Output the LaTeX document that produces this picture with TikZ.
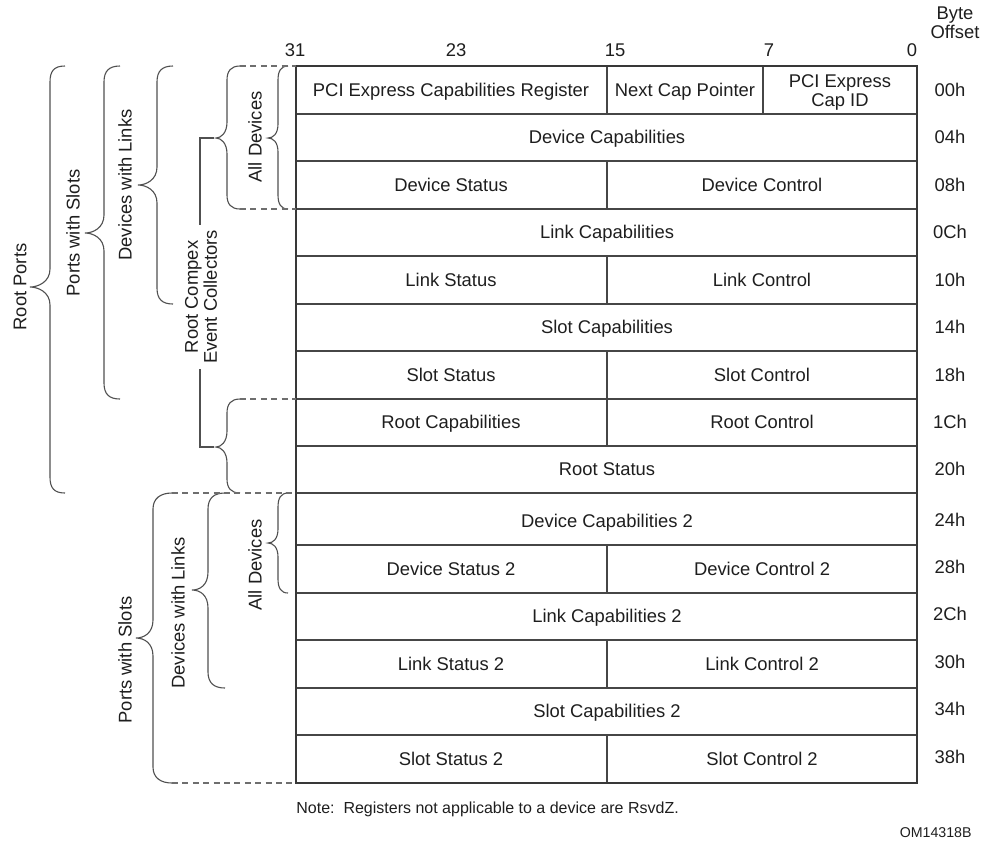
\documentclass[tikz,border=0pt]{standalone}
\usepackage{fontspec}
\setmainfont{Liberation Sans}
\definecolor{inkgray}{RGB}{30,30,30}
\definecolor{rulegray}{RGB}{70,70,70}
\definecolor{bracegray}{RGB}{80,80,80}
\definecolor{dashgray}{RGB}{110,110,110}
\begin{document}
\begin{tikzpicture}[x=0.5pt,y=0.5pt,yscale=-1,xscale=1,
    lbl/.style={text=inkgray,font=\fontsize{9.2}{9.5}\selectfont,inner sep=1pt,align=center,text depth=0pt},
    side/.style={lbl,rotate=90},
    cellrule/.style={draw=rulegray,line width=0.7},
    frame/.style={draw=rulegray!80!black,line width=1.1},
    brc/.style={draw=bracegray,line width=0.55},
    dsh/.style={draw=dashgray,line width=0.55,dash pattern=on 3pt off 2.2pt}]
\useasboundingbox (0,0) rectangle (988,842); %set diagram size 988 x 842

% Bit numbers
\node[lbl] (b31) at (295,50) {31};
\node[lbl] (b23) at (456,50) {23};
\node[lbl] (b15) at (615,50) {15};
\node[lbl] (b7) at (769,50) {7};
\node[lbl] (b0) at (912,50) {0};
\node[lbl] (hdr) at (955,23) {Byte\\Offset};

% Row lines
\draw[cellrule] (296,114) -- (917,114);
\draw[cellrule] (296,161) -- (917,161);
\draw[cellrule] (296,209) -- (917,209);
\draw[cellrule] (296,256) -- (917,256);
\draw[cellrule] (296,304) -- (917,304);
\draw[cellrule] (296,351) -- (917,351);
\draw[cellrule] (296,399) -- (917,399);
\draw[cellrule] (296,446) -- (917,446);
\draw[cellrule] (296,493) -- (917,493);
\draw[cellrule] (296,545) -- (917,545);
\draw[cellrule] (296,593) -- (917,593);
\draw[cellrule] (296,640) -- (917,640);
\draw[cellrule] (296,688) -- (917,688);
\draw[cellrule] (296,735) -- (917,735);
% Column lines
\draw[cellrule] (607,66) -- (607,114);
\draw[cellrule] (763,66) -- (763,114);
\draw[cellrule] (607,161) -- (607,209);
\draw[cellrule] (607,256) -- (607,304);
\draw[cellrule] (607,351) -- (607,446);
\draw[cellrule] (607,545) -- (607,593);
\draw[cellrule] (607,640) -- (607,688);
\draw[cellrule] (607,735) -- (607,783);
% Frame
\draw[frame] (296,66) rectangle (917,783);

% Register names
\node[lbl] (pcicap) at (451,90) {PCI Express Capabilities Register};
\node[lbl] (nextcap) at (685,90) {Next Cap Pointer};
\node[lbl] (capid) at (840,91) {PCI Express\\Cap ID};
\node[lbl] (devcap) at (607,137) {Device Capabilities};
\node[lbl] (devsta) at (451,185) {Device Status};
\node[lbl] (devctl) at (762,185) {Device Control};
\node[lbl] (lnkcap) at (607,232) {Link Capabilities};
\node[lbl] (lnksta) at (451,280) {Link Status};
\node[lbl] (lnkctl) at (762,280) {Link Control};
\node[lbl] (sltcap) at (607,327) {Slot Capabilities};
\node[lbl] (sltsta) at (451,375) {Slot Status};
\node[lbl] (sltctl) at (762,375) {Slot Control};
\node[lbl] (rootcap) at (451,422) {Root Capabilities};
\node[lbl] (rootctl) at (762,422) {Root Control};
\node[lbl] (rootsta) at (607,469) {Root Status};
\node[lbl] (devcapb) at (607,521) {Device Capabilities 2};
\node[lbl] (devstab) at (451,569) {Device Status 2};
\node[lbl] (devctlb) at (762,569) {Device Control 2};
\node[lbl] (lnkcapb) at (607,616) {Link Capabilities 2};
\node[lbl] (lnkstab) at (451,664) {Link Status 2};
\node[lbl] (lnkctlb) at (762,664) {Link Control 2};
\node[lbl] (sltcapb) at (607,711) {Slot Capabilities 2};
\node[lbl] (sltstab) at (451,759) {Slot Status 2};
\node[lbl] (sltctlb) at (762,759) {Slot Control 2};

% Byte offsets
\node[lbl] (o00) at (950,90) {00h};
\node[lbl] (o04) at (950,137) {04h};
\node[lbl] (o08) at (950,185) {08h};
\node[lbl] (o0C) at (950,232) {0Ch};
\node[lbl] (o10) at (950,280) {10h};
\node[lbl] (o14) at (950,327) {14h};
\node[lbl] (o18) at (950,375) {18h};
\node[lbl] (o1C) at (950,422) {1Ch};
\node[lbl] (o20) at (950,469) {20h};
\node[lbl] (o24) at (950,520) {24h};
\node[lbl] (o28) at (950,567) {28h};
\node[lbl] (o2C) at (950,614) {2Ch};
\node[lbl] (o30) at (950,662) {30h};
\node[lbl] (o34) at (950,709) {34h};
\node[lbl] (o38) at (950,757) {38h};

% Braces, upper group
\draw[brc] (65,66) .. controls (54,66) and (50,71) .. (50,82) -- (50,269) .. controls (50,282) and (38,287) .. (30,287) .. controls (38,287) and (50,292) .. (50,305) -- (50,477) .. controls (50,488) and (54,493) .. (65,493);
\draw[brc] (120,66) .. controls (109,66) and (104,71) .. (104,82) -- (104,215) .. controls (104,228) and (93,233) .. (85,233) .. controls (93,233) and (104,238) .. (104,251) -- (104,383) .. controls (104,394) and (109,399) .. (120,399);
\draw[brc] (173,66) .. controls (162,66) and (157,71) .. (157,82) -- (157,167) .. controls (157,180) and (146,185) .. (138,185) .. controls (146,185) and (157,190) .. (157,203) -- (157,288) .. controls (157,299) and (162,304) .. (173,304);
\draw[brc] (240,66) .. controls (231,66) and (227,71) .. (227,80) -- (227,122) .. controls (227,133) and (221,138) .. (216,138) .. controls (221,138) and (227,143) .. (227,154) -- (227,195) .. controls (227,204) and (231,209) .. (240,209);
\draw[brc] (288,66) .. controls (281,66) and (278,71) .. (278,80) -- (278,124) .. controls (278,134) and (273,138) .. (268,138) .. controls (273,138) and (278,142) .. (278,152) -- (278,195) .. controls (278,204) and (281,209) .. (288,209);
\draw[brc] (240,399) .. controls (231,399) and (227,404) .. (227,413) -- (227,431) .. controls (227,442) and (221,447) .. (216,447) .. controls (221,447) and (227,452) .. (227,463) -- (227,479) .. controls (227,488) and (231,493) .. (240,493);
% Braces, lower group
\draw[brc] (172,493) .. controls (161,493) and (153,498) .. (153,509) -- (153,620) .. controls (153,633) and (144,638) .. (136,638) .. controls (144,638) and (153,643) .. (153,656) -- (153,767) .. controls (153,778) and (161,783) .. (172,783);
\draw[brc] (225,493) .. controls (214,493) and (208,498) .. (208,509) -- (208,572) .. controls (208,585) and (200,590) .. (192,590) .. controls (200,590) and (208,595) .. (208,608) -- (208,672) .. controls (208,683) and (214,688) .. (225,688);
\draw[brc] (288,493) .. controls (281,493) and (278,498) .. (278,507) -- (278,529) .. controls (278,539) and (273,543) .. (268,543) .. controls (273,543) and (278,547) .. (278,557) -- (278,579) .. controls (278,588) and (281,593) .. (288,593);

% Dashed extensions
\draw[dsh] (240,66) -- (296,66);
\draw[dsh] (240,209) -- (296,209);
\draw[dsh] (240,399) -- (296,399);
\draw[dsh] (172,493) -- (296,493);
\draw[dsh] (172,783) -- (296,783);

% Root complex event collector bracket
\coordinate (rcTop) at (214,138);
\coordinate (rcBot) at (214,447);
\draw[brc] (rcTop) -- (200,138) -- (200,447) -- (rcBot);

% Side labels
\node[side] (rootports) at (20,287) {Root Ports};
\node[side] (slotsA) at (73,233) {Ports with Slots};
\node[side] (linksA) at (125,185) {Devices with Links};
\node[side,fill=white,inner sep=2.5pt] (rcec) at (201,297) {Root Compex\\Event Collectors};
\node[side] (allA) at (255,137) {All Devices};
\node[side] (slotsB) at (125,660) {Ports with Slots};
\node[side] (linksB) at (178,613) {Devices with Links};
\node[side] (allB) at (255,565) {All Devices};

% Notes
\node[lbl,anchor=west,font=\fontsize{8}{9.5}\selectfont] (note) at (294,808) {Note:\ \ Registers not applicable to a device are RsvdZ.};
\node[lbl,anchor=east,font=\fontsize{7.1}{9.5}\selectfont] (figid) at (974,833) {OM14318B};

\end{tikzpicture}
\end{document}
